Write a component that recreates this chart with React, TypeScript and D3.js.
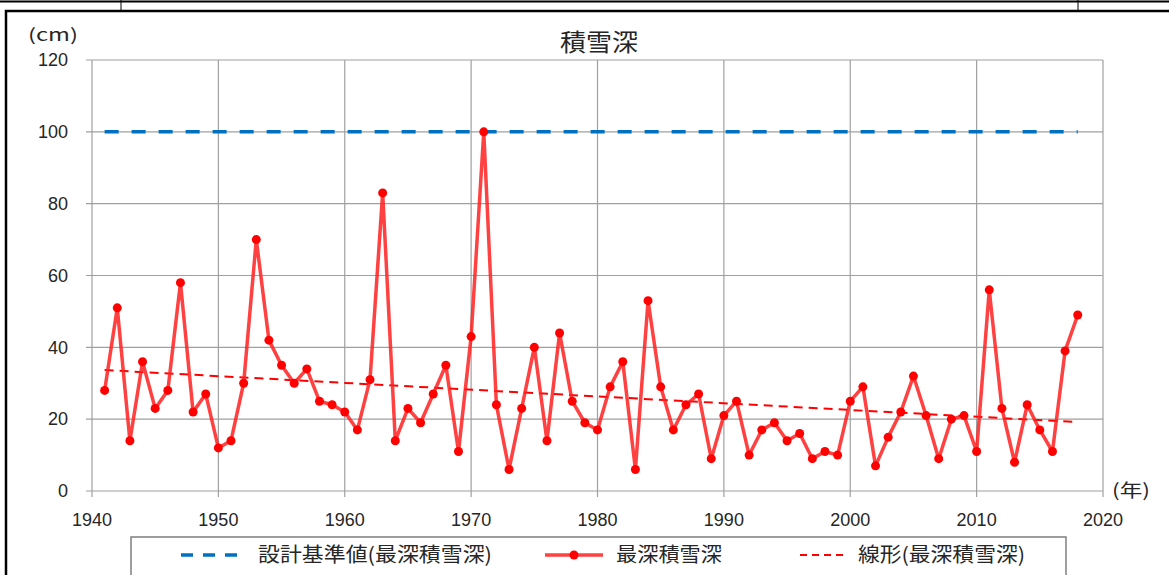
import React from 'react';
import * as d3 from 'd3';

// 最深積雪深 (cm), 1941-2018
const firstYear = 1941;
const snowDepth = [
  28, 51, 14, 36, 23, 28, 58, 22, 27, 12,
  14, 30, 70, 42, 35, 30, 34, 25, 24, 22,
  17, 31, 83, 14, 23, 19, 27, 35, 11, 43,
  100, 24, 6, 23, 40, 14, 44, 25, 19, 17,
  29, 36, 6, 53, 29, 17, 24, 27, 9, 21,
  25, 10, 17, 19, 14, 16, 9, 11, 10, 25,
  29, 7, 15, 22, 32, 21, 9, 20, 21, 11,
  56, 23, 8, 24, 17, 11, 39, 49,
];
const designValue = 100;
const xTicks = [1940, 1950, 1960, 1970, 1980, 1990, 2000, 2010, 2020];
const yTicks = [0, 20, 40, 60, 80, 100, 120];
const title = '積雪深';
const legendLabels = ['設計基準値(最深積雪深)', '最深積雪深', '線形(最深積雪深)'];

const numFont = '"Liberation Sans", Arial, sans-serif';
const jpFont = '"Noto Sans CJK JP", sans-serif';

export default function App() {
  const margin = {left: 92, right: 1103, top: 60, bottom: 491};
  const x = d3.scaleLinear().domain([1940, 2020]).range([margin.left, margin.right]);
  const y = d3.scaleLinear().domain([0, 120]).range([margin.bottom, margin.top]);

  const data = snowDepth.map((v, i) => ({year: firstYear + i, value: v}));
  const lastYear = data[data.length - 1].year;

  // least squares trend (Excel の線形近似)
  const mx = d3.mean(data, d => d.year)!;
  const my = d3.mean(data, d => d.value)!;
  const slope = d3.sum(data, d => (d.year - mx) * (d.value - my)) / d3.sum(data, d => (d.year - mx) ** 2);
  const trend = [firstYear, lastYear].map(yr => ({year: yr, value: my + slope * (yr - mx)}));

  const line = d3.line<{year: number; value: number}>().x(d => x(d.year)).y(d => y(d.value));

  const grid = '#a0a0a0';
  const ink = '#262626';

  return (
    <svg width={1169} height={575} style={{position: 'fixed', left: 0, top: 0, background: '#fff'}}>
      {/* outer frames */}
      <line x1={0} x2={1169} y1={1.5} y2={1.5} stroke="#000" strokeWidth={2} />
      <line x1={121} x2={121} y1={0} y2={10} stroke="#000" strokeWidth={1} />
      <line x1={1078} x2={1078} y1={0} y2={10} stroke="#000" strokeWidth={1} />
      <rect x={6} y={11} width={1200} height={600} fill="none" stroke="#000" strokeWidth={2.5} />

      {/* grid */}
      {yTicks.map(t => (
        <line key={'y' + t} x1={margin.left - 6} x2={margin.right} y1={y(t)} y2={y(t)} stroke={grid} strokeWidth={1.2} />
      ))}
      {xTicks.map(t => (
        <line key={'x' + t} x1={x(t)} x2={x(t)} y1={margin.top} y2={margin.bottom + 6} stroke={grid} strokeWidth={1.2} />
      ))}

      {/* tick labels */}
      {yTicks.map(t => (
        <text key={'yl' + t} x={68} y={y(t)} dy="0.35em" textAnchor="end" fontFamily={numFont} fontSize={18} fill={ink}>{t}</text>
      ))}
      {xTicks.map(t => (
        <text key={'xl' + t} x={x(t)} y={520} dy="0.35em" textAnchor="middle" fontFamily={numFont} fontSize={18} fill={ink}>{t}</text>
      ))}
      <text x={28} y={35} dy="0.35em" fontFamily={jpFont} fontSize={17} fill={ink} textLength={50} lengthAdjust="spacingAndGlyphs">(cm)</text>
      <text x={1112} y={491} dy="0.35em" fontFamily={jpFont} fontSize={18} fill={ink} textLength={38} lengthAdjust="spacingAndGlyphs">(年)</text>
      <text x={599} y={43} dy="0.35em" textAnchor="middle" fontFamily={jpFont} fontSize={24} fill={ink} textLength={78} lengthAdjust="spacingAndGlyphs">{title}</text>

      {/* design value */}
      <line x1={x(firstYear)} x2={x(lastYear)} y1={y(designValue)} y2={y(designValue)}
        stroke="#0070c0" strokeWidth={3.5} strokeDasharray="14 13" />

      {/* trend */}
      <path d={line(trend)!} fill="none" stroke="#ff0000" strokeWidth={2} strokeDasharray="9 6" />

      {/* series */}
      <path d={line(data)!} fill="none" stroke="#ff2020" strokeOpacity={0.85} strokeWidth={3.5} strokeLinejoin="round" />
      {data.map(d => (
        <circle key={d.year} cx={x(d.year)} cy={y(d.value)} r={4.5} fill="#ff0000" />
      ))}

      {/* legend */}
      <rect x={131} y={537} width={935} height={60} fill="#fff" stroke="#7f7f7f" strokeWidth={1.5} />
      <line x1={181} x2={237} y1={555} y2={555} stroke="#0070c0" strokeWidth={3.5} strokeDasharray="12 10" />
      <text x={258} y={555} dy="0.35em" fontFamily={jpFont} fontSize={20} fill={ink} textLength={234} lengthAdjust="spacingAndGlyphs">{legendLabels[0]}</text>
      <line x1={545} x2={603} y1={555} y2={555} stroke="#ff2020" strokeOpacity={0.85} strokeWidth={3.5} />
      <circle cx={574} cy={555} r={4.5} fill="#ff0000" />
      <text x={616} y={555} dy="0.35em" fontFamily={jpFont} fontSize={20} fill={ink} textLength={106} lengthAdjust="spacingAndGlyphs">{legendLabels[1]}</text>
      <line x1={800} x2={843} y1={555} y2={555} stroke="#ff0000" strokeWidth={2} strokeDasharray="7 5" />
      <text x={858} y={555} dy="0.35em" fontFamily={jpFont} fontSize={20} fill={ink} textLength={167} lengthAdjust="spacingAndGlyphs">{legendLabels[2]}</text>
    </svg>
  );
}
